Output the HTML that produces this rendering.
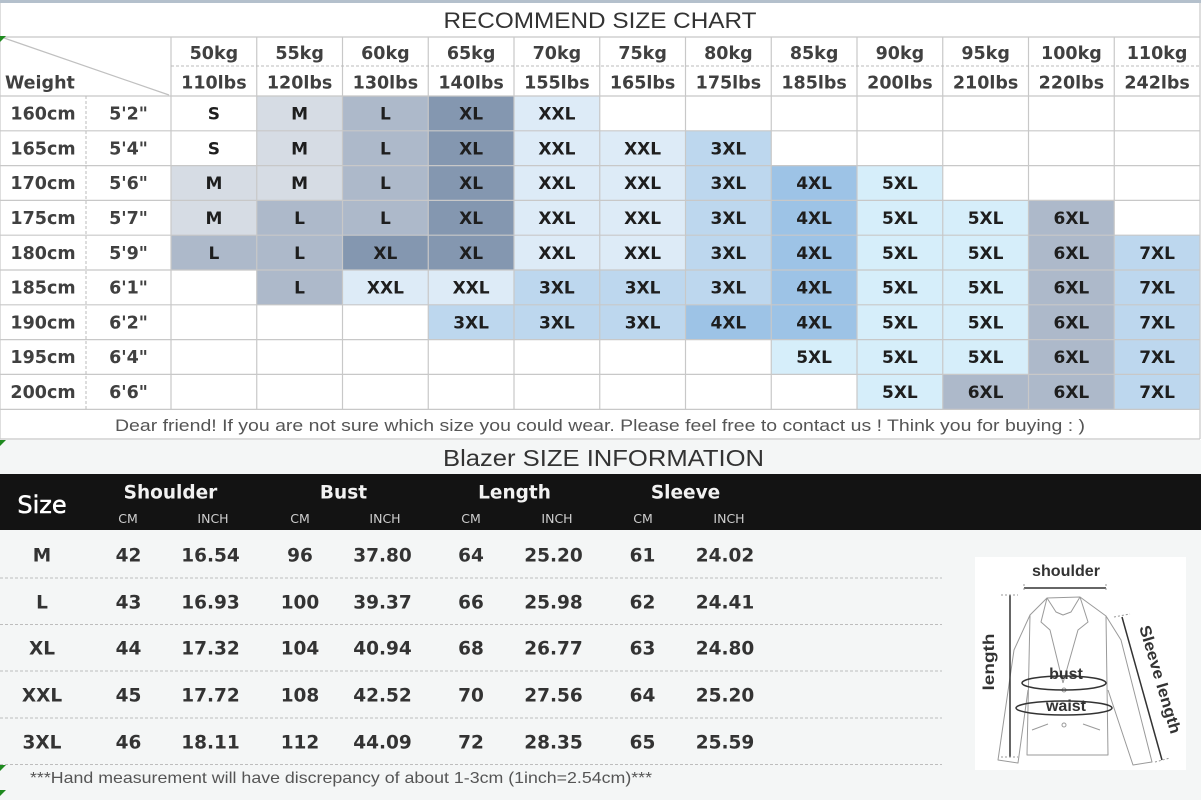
<!DOCTYPE html>
<html><head><meta charset="utf-8"><style>html,body{margin:0;padding:0;background:#fff;}svg{display:block;}</style></head>
<body>
<svg width="1201" height="800" viewBox="0 0 1201 800" xmlns="http://www.w3.org/2000/svg">
<rect x="0" y="0" width="1201" height="800" fill="#ffffff"/>
<!-- lower background -->
<rect x="0" y="440" width="1201" height="360" fill="#f4f6f6"/>
<!-- top border -->
<rect x="0" y="0" width="1201" height="3" fill="#b4c0cc"/>
<!-- title -->
<text x="600" y="28" font-family="Liberation Sans, sans-serif" font-size="22.5" fill="#333" text-anchor="middle" textLength="313" lengthAdjust="spacingAndGlyphs">RECOMMEND SIZE CHART</text>

<!-- cell fills -->
<g>
<!-- row 0 y=96 -->
<rect x="256.75" y="96" width="85.75" height="34.8" fill="#d6dce4"/>
<rect x="342.5" y="96" width="85.75" height="34.8" fill="#adb9ca"/>
<rect x="428.25" y="96" width="85.75" height="34.8" fill="#8497b0"/>
<rect x="514" y="96" width="85.75" height="34.8" fill="#ddebf7"/>
<!-- row 1 y=130.8 -->
<rect x="256.75" y="130.8" width="85.75" height="34.8" fill="#d6dce4"/>
<rect x="342.5" y="130.8" width="85.75" height="34.8" fill="#adb9ca"/>
<rect x="428.25" y="130.8" width="85.75" height="34.8" fill="#8497b0"/>
<rect x="514" y="130.8" width="85.75" height="34.8" fill="#ddebf7"/>
<rect x="599.75" y="130.8" width="85.75" height="34.8" fill="#ddebf7"/>
<rect x="685.5" y="130.8" width="85.75" height="34.8" fill="#bdd7ee"/>
<!-- row 2 y=165.6 -->
<rect x="171" y="165.6" width="85.75" height="34.8" fill="#d6dce4"/>
<rect x="256.75" y="165.6" width="85.75" height="34.8" fill="#d6dce4"/>
<rect x="342.5" y="165.6" width="85.75" height="34.8" fill="#adb9ca"/>
<rect x="428.25" y="165.6" width="85.75" height="34.8" fill="#8497b0"/>
<rect x="514" y="165.6" width="85.75" height="34.8" fill="#ddebf7"/>
<rect x="599.75" y="165.6" width="85.75" height="34.8" fill="#ddebf7"/>
<rect x="685.5" y="165.6" width="85.75" height="34.8" fill="#bdd7ee"/>
<rect x="771.25" y="165.6" width="85.75" height="34.8" fill="#9dc3e6"/>
<rect x="857" y="165.6" width="85.75" height="34.8" fill="#d6eefa"/>
<!-- row 3 y=200.4 -->
<rect x="171" y="200.4" width="85.75" height="34.8" fill="#d6dce4"/>
<rect x="256.75" y="200.4" width="85.75" height="34.8" fill="#adb9ca"/>
<rect x="342.5" y="200.4" width="85.75" height="34.8" fill="#adb9ca"/>
<rect x="428.25" y="200.4" width="85.75" height="34.8" fill="#8497b0"/>
<rect x="514" y="200.4" width="85.75" height="34.8" fill="#ddebf7"/>
<rect x="599.75" y="200.4" width="85.75" height="34.8" fill="#ddebf7"/>
<rect x="685.5" y="200.4" width="85.75" height="34.8" fill="#bdd7ee"/>
<rect x="771.25" y="200.4" width="85.75" height="34.8" fill="#9dc3e6"/>
<rect x="857" y="200.4" width="85.75" height="34.8" fill="#d6eefa"/>
<rect x="942.75" y="200.4" width="85.75" height="34.8" fill="#d6eefa"/>
<rect x="1028.5" y="200.4" width="85.75" height="34.8" fill="#adb9ca"/>
<!-- row 4 y=235.2 -->
<rect x="171" y="235.2" width="85.75" height="34.8" fill="#adb9ca"/>
<rect x="256.75" y="235.2" width="85.75" height="34.8" fill="#adb9ca"/>
<rect x="342.5" y="235.2" width="85.75" height="34.8" fill="#8497b0"/>
<rect x="428.25" y="235.2" width="85.75" height="34.8" fill="#8497b0"/>
<rect x="514" y="235.2" width="85.75" height="34.8" fill="#ddebf7"/>
<rect x="599.75" y="235.2" width="85.75" height="34.8" fill="#ddebf7"/>
<rect x="685.5" y="235.2" width="85.75" height="34.8" fill="#bdd7ee"/>
<rect x="771.25" y="235.2" width="85.75" height="34.8" fill="#9dc3e6"/>
<rect x="857" y="235.2" width="85.75" height="34.8" fill="#d6eefa"/>
<rect x="942.75" y="235.2" width="85.75" height="34.8" fill="#d6eefa"/>
<rect x="1028.5" y="235.2" width="85.75" height="34.8" fill="#adb9ca"/>
<rect x="1114.25" y="235.2" width="85.75" height="34.8" fill="#bdd7ee"/>
<!-- row 5 y=270 -->
<rect x="256.75" y="270" width="85.75" height="34.8" fill="#adb9ca"/>
<rect x="342.5" y="270" width="85.75" height="34.8" fill="#ddebf7"/>
<rect x="428.25" y="270" width="85.75" height="34.8" fill="#ddebf7"/>
<rect x="514" y="270" width="85.75" height="34.8" fill="#bdd7ee"/>
<rect x="599.75" y="270" width="85.75" height="34.8" fill="#bdd7ee"/>
<rect x="685.5" y="270" width="85.75" height="34.8" fill="#bdd7ee"/>
<rect x="771.25" y="270" width="85.75" height="34.8" fill="#9dc3e6"/>
<rect x="857" y="270" width="85.75" height="34.8" fill="#d6eefa"/>
<rect x="942.75" y="270" width="85.75" height="34.8" fill="#d6eefa"/>
<rect x="1028.5" y="270" width="85.75" height="34.8" fill="#adb9ca"/>
<rect x="1114.25" y="270" width="85.75" height="34.8" fill="#bdd7ee"/>
<!-- row 6 y=304.8 -->
<rect x="428.25" y="304.8" width="85.75" height="34.8" fill="#bdd7ee"/>
<rect x="514" y="304.8" width="85.75" height="34.8" fill="#bdd7ee"/>
<rect x="599.75" y="304.8" width="85.75" height="34.8" fill="#bdd7ee"/>
<rect x="685.5" y="304.8" width="85.75" height="34.8" fill="#9dc3e6"/>
<rect x="771.25" y="304.8" width="85.75" height="34.8" fill="#9dc3e6"/>
<rect x="857" y="304.8" width="85.75" height="34.8" fill="#d6eefa"/>
<rect x="942.75" y="304.8" width="85.75" height="34.8" fill="#d6eefa"/>
<rect x="1028.5" y="304.8" width="85.75" height="34.8" fill="#adb9ca"/>
<rect x="1114.25" y="304.8" width="85.75" height="34.8" fill="#bdd7ee"/>
<!-- row 7 y=339.6 -->
<rect x="771.25" y="339.6" width="85.75" height="34.8" fill="#d6eefa"/>
<rect x="857" y="339.6" width="85.75" height="34.8" fill="#d6eefa"/>
<rect x="942.75" y="339.6" width="85.75" height="34.8" fill="#d6eefa"/>
<rect x="1028.5" y="339.6" width="85.75" height="34.8" fill="#adb9ca"/>
<rect x="1114.25" y="339.6" width="85.75" height="34.8" fill="#bdd7ee"/>
<!-- row 8 y=374.4 -->
<rect x="857" y="374.4" width="85.75" height="34.8" fill="#d6eefa"/>
<rect x="942.75" y="374.4" width="85.75" height="34.8" fill="#adb9ca"/>
<rect x="1028.5" y="374.4" width="85.75" height="34.8" fill="#adb9ca"/>
<rect x="1114.25" y="374.4" width="85.75" height="34.8" fill="#bdd7ee"/>
</g>

<!-- grid lines -->
<g stroke="#c8c8c8" stroke-width="1.2" fill="none">
<line x1="0" y1="37" x2="1200" y2="37"/>
<line x1="0" y1="96" x2="1200" y2="96"/>
<line x1="0" y1="130.8" x2="1200" y2="130.8"/>
<line x1="0" y1="165.6" x2="1200" y2="165.6"/>
<line x1="0" y1="200.4" x2="1200" y2="200.4"/>
<line x1="0" y1="235.2" x2="1200" y2="235.2"/>
<line x1="0" y1="270" x2="1200" y2="270"/>
<line x1="0" y1="304.8" x2="1200" y2="304.8"/>
<line x1="0" y1="339.6" x2="1200" y2="339.6"/>
<line x1="0" y1="374.4" x2="1200" y2="374.4"/>
<line x1="0" y1="409.4" x2="1200" y2="409.4"/>
<line x1="0" y1="439" x2="1200" y2="439"/>
<line x1="171" y1="37" x2="171" y2="409.4"/>
<line x1="256.75" y1="37" x2="256.75" y2="409.4"/>
<line x1="342.5" y1="37" x2="342.5" y2="409.4"/>
<line x1="428.25" y1="37" x2="428.25" y2="409.4"/>
<line x1="514" y1="37" x2="514" y2="409.4"/>
<line x1="599.75" y1="37" x2="599.75" y2="409.4"/>
<line x1="685.5" y1="37" x2="685.5" y2="409.4"/>
<line x1="771.25" y1="37" x2="771.25" y2="409.4"/>
<line x1="857" y1="37" x2="857" y2="409.4"/>
<line x1="942.75" y1="37" x2="942.75" y2="409.4"/>
<line x1="1028.5" y1="37" x2="1028.5" y2="409.4"/>
<line x1="1114.25" y1="37" x2="1114.25" y2="409.4"/>
<line x1="1200" y1="3" x2="1200" y2="439"/>
<line x1="0" y1="3" x2="0" y2="439"/>
<line x1="4" y1="38" x2="169" y2="95" stroke="#c0c0c0"/>
</g>
<g stroke="#bbbbbb" stroke-width="1" stroke-dasharray="3,2" fill="none">
<line x1="171" y1="66" x2="1200" y2="66"/>
<line x1="86" y1="96" x2="86" y2="409"/>
</g>

<!-- header text -->
<g font-family="DejaVu Sans, sans-serif" font-weight="bold" font-size="17.5" fill="#404040" text-anchor="middle">
<text x="213.9" y="59">50kg</text>
<text x="299.6" y="59">55kg</text>
<text x="385.4" y="59">60kg</text>
<text x="471.1" y="59">65kg</text>
<text x="556.9" y="59">70kg</text>
<text x="642.6" y="59">75kg</text>
<text x="728.4" y="59">80kg</text>
<text x="814.1" y="59">85kg</text>
<text x="899.9" y="59">90kg</text>
<text x="985.6" y="59">95kg</text>
<text x="1071.4" y="59">100kg</text>
<text x="1157.1" y="59">110kg</text>
<text x="213.9" y="88.5">110lbs</text>
<text x="299.6" y="88.5">120lbs</text>
<text x="385.4" y="88.5">130lbs</text>
<text x="471.1" y="88.5">140lbs</text>
<text x="556.9" y="88.5">155lbs</text>
<text x="642.6" y="88.5">165lbs</text>
<text x="728.4" y="88.5">175lbs</text>
<text x="814.1" y="88.5">185lbs</text>
<text x="899.9" y="88.5">200lbs</text>
<text x="985.6" y="88.5">210lbs</text>
<text x="1071.4" y="88.5">220lbs</text>
<text x="1157.1" y="88.5">242lbs</text>
<text x="5" y="88.5" text-anchor="start">Weight</text>
<text x="43" y="119.6">160cm</text>
<text x="43" y="154.4">165cm</text>
<text x="43" y="189.2">170cm</text>
<text x="43" y="224">175cm</text>
<text x="43" y="258.8">180cm</text>
<text x="43" y="293.6">185cm</text>
<text x="43" y="328.4">190cm</text>
<text x="43" y="363.2">195cm</text>
<text x="43" y="398">200cm</text>
<text x="128.5" y="119.6">5'2"</text>
<text x="128.5" y="154.4">5'4"</text>
<text x="128.5" y="189.2">5'6"</text>
<text x="128.5" y="224">5'7"</text>
<text x="128.5" y="258.8">5'9"</text>
<text x="128.5" y="293.6">6'1"</text>
<text x="128.5" y="328.4">6'2"</text>
<text x="128.5" y="363.2">6'4"</text>
<text x="128.5" y="398">6'6"</text>
</g>

<!-- cell text -->
<g font-family="DejaVu Sans, sans-serif" font-weight="bold" font-size="17" fill="#1e1e1e" text-anchor="middle">
<text x="213.9" y="119.6">S</text><text x="299.6" y="119.6">M</text><text x="385.4" y="119.6">L</text><text x="471.1" y="119.6">XL</text><text x="556.9" y="119.6">XXL</text>
<text x="213.9" y="154.4">S</text><text x="299.6" y="154.4">M</text><text x="385.4" y="154.4">L</text><text x="471.1" y="154.4">XL</text><text x="556.9" y="154.4">XXL</text><text x="642.6" y="154.4">XXL</text><text x="728.4" y="154.4">3XL</text>
<text x="213.9" y="189.2">M</text><text x="299.6" y="189.2">M</text><text x="385.4" y="189.2">L</text><text x="471.1" y="189.2">XL</text><text x="556.9" y="189.2">XXL</text><text x="642.6" y="189.2">XXL</text><text x="728.4" y="189.2">3XL</text><text x="814.1" y="189.2">4XL</text><text x="899.9" y="189.2">5XL</text>
<text x="213.9" y="224">M</text><text x="299.6" y="224">L</text><text x="385.4" y="224">L</text><text x="471.1" y="224">XL</text><text x="556.9" y="224">XXL</text><text x="642.6" y="224">XXL</text><text x="728.4" y="224">3XL</text><text x="814.1" y="224">4XL</text><text x="899.9" y="224">5XL</text><text x="985.6" y="224">5XL</text><text x="1071.4" y="224">6XL</text>
<text x="213.9" y="258.8">L</text><text x="299.6" y="258.8">L</text><text x="385.4" y="258.8">XL</text><text x="471.1" y="258.8">XL</text><text x="556.9" y="258.8">XXL</text><text x="642.6" y="258.8">XXL</text><text x="728.4" y="258.8">3XL</text><text x="814.1" y="258.8">4XL</text><text x="899.9" y="258.8">5XL</text><text x="985.6" y="258.8">5XL</text><text x="1071.4" y="258.8">6XL</text><text x="1157.1" y="258.8">7XL</text>
<text x="299.6" y="293.6">L</text><text x="385.4" y="293.6">XXL</text><text x="471.1" y="293.6">XXL</text><text x="556.9" y="293.6">3XL</text><text x="642.6" y="293.6">3XL</text><text x="728.4" y="293.6">3XL</text><text x="814.1" y="293.6">4XL</text><text x="899.9" y="293.6">5XL</text><text x="985.6" y="293.6">5XL</text><text x="1071.4" y="293.6">6XL</text><text x="1157.1" y="293.6">7XL</text>
<text x="471.1" y="328.4">3XL</text><text x="556.9" y="328.4">3XL</text><text x="642.6" y="328.4">3XL</text><text x="728.4" y="328.4">4XL</text><text x="814.1" y="328.4">4XL</text><text x="899.9" y="328.4">5XL</text><text x="985.6" y="328.4">5XL</text><text x="1071.4" y="328.4">6XL</text><text x="1157.1" y="328.4">7XL</text>
<text x="814.1" y="363.2">5XL</text><text x="899.9" y="363.2">5XL</text><text x="985.6" y="363.2">5XL</text><text x="1071.4" y="363.2">6XL</text><text x="1157.1" y="363.2">7XL</text>
<text x="899.9" y="398">5XL</text><text x="985.6" y="398">6XL</text><text x="1071.4" y="398">6XL</text><text x="1157.1" y="398">7XL</text>
</g>

<!-- note -->
<text x="115" y="431" font-family="Liberation Sans, sans-serif" font-size="17" fill="#555" textLength="970" lengthAdjust="spacingAndGlyphs">Dear friend! If you are not sure which size you could wear. Please feel free to contact us ! Think you for buying  : )</text>

<!-- green markers -->
<g fill="#1f8a1f">
<polygon points="0,36 6,36 0,42"/>
<polygon points="0,440 6,440 0,446"/>
<polygon points="0,765 6,765 0,771"/>
<polygon points="0,790 6,790 0,796"/>
</g>

<!-- Blazer title -->
<text x="603.5" y="466" font-family="Liberation Sans, sans-serif" font-size="23" fill="#333" text-anchor="middle" textLength="321" lengthAdjust="spacingAndGlyphs">Blazer SIZE INFORMATION</text>

<!-- black header bar -->
<rect x="0" y="474" width="1201" height="56" fill="#131313"/>
<text x="42" y="513" font-family="DejaVu Sans, sans-serif" font-size="24" fill="#fff" stroke="#fff" stroke-width="0.5" text-anchor="middle">Size</text>
<g font-family="DejaVu Sans, sans-serif" font-weight="bold" font-size="18.5" fill="#f2f2f2" text-anchor="middle">
<text x="170.5" y="498.5">Shoulder</text>
<text x="343.5" y="498.5">Bust</text>
<text x="514.5" y="498.5">Length</text>
<text x="685.5" y="498.5">Sleeve</text>
</g>
<g font-family="DejaVu Sans, sans-serif" font-size="12.5" fill="#cfcfcf" text-anchor="middle">
<text x="128" y="523">CM</text><text x="213" y="523">INCH</text>
<text x="300" y="523">CM</text><text x="385" y="523">INCH</text>
<text x="471" y="523">CM</text><text x="557" y="523">INCH</text>
<text x="643" y="523">CM</text><text x="729" y="523">INCH</text>
</g>

<!-- dashed row lines -->
<g stroke="#bdbdbd" stroke-width="1" stroke-dasharray="3,2">
<line x1="0" y1="578" x2="942" y2="578"/>
<line x1="0" y1="624.5" x2="942" y2="624.5"/>
<line x1="0" y1="671" x2="942" y2="671"/>
<line x1="0" y1="718" x2="942" y2="718"/>
<line x1="0" y1="764.5" x2="942" y2="764.5"/>
</g>

<!-- lower table values -->
<g font-family="DejaVu Sans, sans-serif" font-weight="bold" font-size="18.5" fill="#333" text-anchor="middle">
<text x="42" y="561.7">M</text><text x="128.5" y="561.7">42</text><text x="210.5" y="561.7">16.54</text><text x="300" y="561.7">96</text><text x="382.5" y="561.7">37.80</text><text x="471" y="561.7">64</text><text x="553.5" y="561.7">25.20</text><text x="642.5" y="561.7">61</text><text x="725" y="561.7">24.02</text>
<text x="42" y="608.7">L</text><text x="128.5" y="608.7">43</text><text x="210.5" y="608.7">16.93</text><text x="300" y="608.7">100</text><text x="382.5" y="608.7">39.37</text><text x="471" y="608.7">66</text><text x="553.5" y="608.7">25.98</text><text x="642.5" y="608.7">62</text><text x="725" y="608.7">24.41</text>
<text x="42" y="654.7">XL</text><text x="128.5" y="654.7">44</text><text x="210.5" y="654.7">17.32</text><text x="300" y="654.7">104</text><text x="382.5" y="654.7">40.94</text><text x="471" y="654.7">68</text><text x="553.5" y="654.7">26.77</text><text x="642.5" y="654.7">63</text><text x="725" y="654.7">24.80</text>
<text x="42" y="701.7">XXL</text><text x="128.5" y="701.7">45</text><text x="210.5" y="701.7">17.72</text><text x="300" y="701.7">108</text><text x="382.5" y="701.7">42.52</text><text x="471" y="701.7">70</text><text x="553.5" y="701.7">27.56</text><text x="642.5" y="701.7">64</text><text x="725" y="701.7">25.20</text>
<text x="42" y="748.7">3XL</text><text x="128.5" y="748.7">46</text><text x="210.5" y="748.7">18.11</text><text x="300" y="748.7">112</text><text x="382.5" y="748.7">44.09</text><text x="471" y="748.7">72</text><text x="553.5" y="748.7">28.35</text><text x="642.5" y="748.7">65</text><text x="725" y="748.7">25.59</text>
</g>

<!-- footer -->
<text x="30" y="783" font-family="Liberation Sans, sans-serif" font-size="16" fill="#555" textLength="622" lengthAdjust="spacingAndGlyphs">***Hand measurement will have discrepancy of about 1-3cm (1inch=2.54cm)***</text>

<!-- illustration -->
<rect x="975" y="557" width="211" height="213" fill="#ffffff"/>
<g stroke="#9a9a9a" stroke-width="1" fill="none" stroke-linejoin="round">
<path d="M1030,615 L1047,598 L1080,597 L1106,616 L1108,755 L1027,755 Z"/>
<path d="M1030,615 L1014,650 L998,760 L1018,763 L1028,690"/>
<path d="M1106,616 L1121,640 L1152,762 L1133,765 L1108,690"/>
<path d="M1047,598 L1041,622 L1050,630 L1063,683"/>
<path d="M1080,597 L1088,622 L1078,630 L1063,683"/>
<path d="M1047,598 L1056,612 L1063,615 L1071,612 L1080,597"/>
<path d="M1032,730 L1048,724"/>
<path d="M1083,724 L1100,730"/>
<circle cx="1064" cy="690" r="2"/>
<circle cx="1064" cy="725" r="2"/>
</g>
<g stroke="#333" stroke-width="1.5" fill="none">
<line x1="1024" y1="588" x2="1106" y2="588"/>
<line x1="1010" y1="595" x2="1010" y2="757"/>
<line x1="1122" y1="617" x2="1162" y2="760"/>
<ellipse cx="1064" cy="683" rx="42" ry="7"/>
<ellipse cx="1064" cy="708" rx="48" ry="7"/>
</g>
<g stroke="#999" stroke-width="1" stroke-dasharray="2,2">
<line x1="1024" y1="584" x2="1024" y2="592"/>
<line x1="1106" y1="584" x2="1106" y2="592"/>
<line x1="1001" y1="595" x2="1018" y2="595"/>
<line x1="1001" y1="757" x2="1018" y2="757"/>
<line x1="1114" y1="617" x2="1130" y2="614"/>
<line x1="1155" y1="762" x2="1170" y2="758"/>
</g>
<g font-family="Liberation Sans, sans-serif" font-size="16" fill="#333" text-anchor="middle" font-weight="bold">
<text x="1066" y="576" textLength="68" lengthAdjust="spacingAndGlyphs">shoulder</text>
<text x="1066" y="679">bust</text>
<text x="1066" y="711">waist</text>
<text transform="translate(994,662) rotate(-90)" textLength="57" lengthAdjust="spacingAndGlyphs">length</text>
<text transform="translate(1155,681) rotate(73.5)" textLength="112" lengthAdjust="spacingAndGlyphs">Sleeve length</text>
</g>
</svg>
</body></html>
